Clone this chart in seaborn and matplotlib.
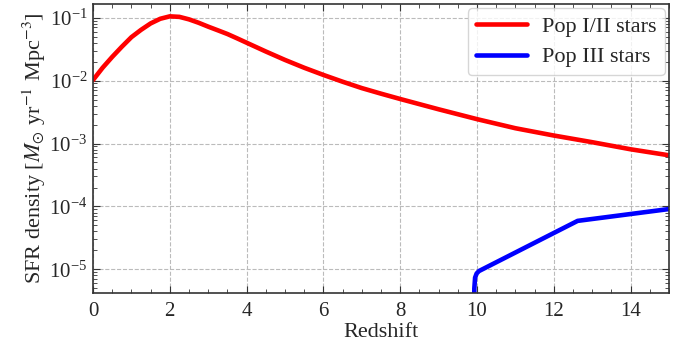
import numpy as np
import pandas as pd
import matplotlib
matplotlib.use("Agg")
import matplotlib.pyplot as plt
import seaborn as sns
from matplotlib.ticker import MultipleLocator, LogLocator, NullFormatter

# Data
z_pop12 = [0, 0.25, 0.5, 0.75, 1, 1.25, 1.5, 1.75, 2, 2.25, 2.5, 2.75, 3, 3.25, 3.5, 3.75, 4, 4.5, 5, 5.5,
           6, 6.5, 7, 7.5, 8, 9, 10, 11, 12, 13, 14, 15]
sfr_pop12 = [0.0102, 0.0160, 0.0238, 0.0345, 0.049, 0.064, 0.081, 0.096, 0.105, 0.103, 0.094, 0.083, 0.072,
             0.063, 0.055, 0.047, 0.040, 0.029, 0.0213, 0.016, 0.0123, 0.0096, 0.0076, 0.0062, 0.0051,
             0.0035, 0.00244, 0.00175, 0.00134, 0.00105, 0.00081, 0.00065]
z_pop3 = [9.92, 9.93, 9.95, 9.99, 10.05, 12.62, 15.0]
sfr_pop3 = [1e-6, 5.0e-6, 7.4e-6, 8.6e-6, 9.4e-6, 5.9e-5, 9.1e-5]
series_names = ["Pop I/II stars", "Pop III stars"]
colors = ["#ff0000", "#0000ff"]

df = pd.concat([
    pd.DataFrame({"z": z_pop12, "sfr": sfr_pop12, "pop": series_names[0]}),
    pd.DataFrame({"z": z_pop3, "sfr": sfr_pop3, "pop": series_names[1]}),
])

sns.set_style("ticks")
plt.rcParams["font.family"] = ["Liberation Serif", "DejaVu Serif"]
plt.rcParams["mathtext.fontset"] = "stix"
plt.rcParams["font.size"] = 15

fig = plt.figure(figsize=(6.92, 3.5), dpi=100)
ax = fig.add_axes([0.1344, 0.1637, 0.9668 - 0.1344, 0.9886 - 0.1637])

sns.lineplot(data=df, x="z", y="sfr", hue="pop", palette=colors, linewidth=3.3,
             ax=ax, sort=False, estimator=None)

ax.set_yscale("log")
ax.set_xlim(0, 15)
ax.set_ylim(4.26e-6, 0.165)
ax.xaxis.set_major_locator(MultipleLocator(2))
ax.xaxis.set_minor_locator(MultipleLocator(0.5))
ax.yaxis.set_major_locator(LogLocator(base=10, numticks=10))
ax.yaxis.set_minor_locator(LogLocator(base=10, subs=np.arange(2, 10), numticks=100))
ax.yaxis.set_minor_formatter(NullFormatter())

ax.tick_params(which="both", direction="in", top=True, right=True, labelsize=15, color="#333333")
ax.tick_params(which="major", length=5, width=0.8, pad=4)
ax.tick_params(axis="x", which="major", pad=7)
ax.tick_params(which="minor", length=3, width=0.6)
for s in ax.spines.values():
    s.set_color("#333333")
    s.set_linewidth(1.2)

ax.grid(True, which="major", linestyle="--", color="#bbbbbb", linewidth=0.8)
ax.set_axisbelow(True)

ax.set_xlabel("Redshift", fontsize=16, labelpad=1)
ax.set_ylabel(r"SFR density [$M_{\odot}$ yr$^{-1}$ Mpc$^{-3}$]", fontsize=16, labelpad=1)

leg = ax.legend(loc="upper right", fontsize=16, handlelength=2.3, handletextpad=0.7,
                frameon=True, fancybox=True, borderaxespad=0.2, labelspacing=0.45,
                borderpad=0.35)
leg.set_title(None)
leg.get_frame().set_edgecolor("#cccccc")
for line in leg.get_lines():
    line.set_linewidth(3.3)

fig.savefig("out.png", dpi=100)
